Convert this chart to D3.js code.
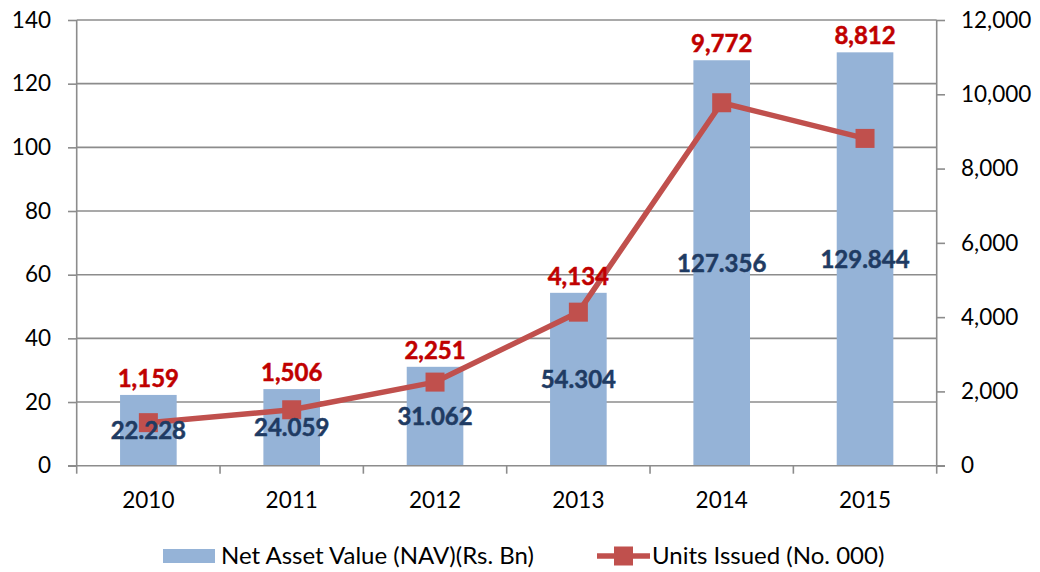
<!DOCTYPE html>
<html>
<head>
<meta charset="utf-8">
<script src="https://cdn.jsdelivr.net/npm/d3@7"></script>
<style>
  html, body { margin: 0; padding: 0; background: #fff; }
  svg { display: block; font-family: Lato, "Open Sans", sans-serif; }
</style>
</head>
<body>
<svg id="chart" width="1040" height="572"></svg>
<script>
const years = ["2010", "2011", "2012", "2013", "2014", "2015"];
const navValues = [22.228, 24.059, 31.062, 54.304, 127.356, 129.844];
const unitsValues = [1159, 1506, 2251, 4134, 9772, 8812];
const leftTicks = [0, 20, 40, 60, 80, 100, 120, 140];
const rightTicks = [0, 2000, 4000, 6000, 8000, 10000, 12000];
const navLabels = ["22.228", "24.059", "31.062", "54.304", "127.356", "129.844"];
const unitsLabels = ["1,159", "1,506", "2,251", "4,134", "9,772", "8,812"];
const legendNames = ["Net Asset Value (NAV)(Rs. Bn)", "Units Issued (No. 000)"];

const W = 1040, H = 572;
const m = { left: 76.7, right: 1040 - 936.7, top: 20, bottom: 572 - 465.7 };
const svg = d3.select("#chart");
const gridColor = "#8c8c8c";
const barColor = "#95B3D7";
const lineColor = "#C0504D";
const axisFont = 22.5;

const x = d3.scaleBand().domain(years).range([m.left, W - m.right]).paddingInner(0.605).paddingOuter(0.3025);
const band = d3.scaleBand().domain(years).range([m.left, W - m.right]);
const yL = d3.scaleLinear().domain([0, 140]).range([H - m.bottom, m.top]);
const yR = d3.scaleLinear().domain([0, 12000]).range([H - m.bottom, m.top]);

// gridlines
svg.append("g").selectAll("line").data(leftTicks.filter(d => d > 0)).join("line")
  .attr("x1", m.left).attr("x2", W - m.right)
  .attr("y1", d => yL(d)).attr("y2", d => yL(d))
  .attr("stroke", gridColor).attr("stroke-width", 1.6);

// bars
svg.append("g").selectAll("rect").data(years).join("rect")
  .attr("x", d => x(d)).attr("width", x.bandwidth())
  .attr("y", (d, i) => yL(navValues[i]))
  .attr("height", (d, i) => yL(0) - yL(navValues[i]))
  .attr("fill", barColor);

// left axis
const axL = svg.append("g").attr("transform", `translate(${m.left},0)`)
  .call(d3.axisLeft(yL).tickValues(leftTicks).tickSize(8.7).tickPadding(17).tickFormat(d3.format("d")));
axL.select(".domain").attr("stroke", gridColor).attr("stroke-width", 1.6).attr("d", `M0,${yL(0)}V${yL(140)}`);
axL.selectAll(".tick line").attr("stroke", gridColor).attr("stroke-width", 1.6);
axL.selectAll("text").attr("font-size", axisFont).attr("fill", "#000").attr("font-family", "Lato");

// right axis
const axR = svg.append("g").attr("transform", `translate(${W - m.right},0)`)
  .call(d3.axisRight(yR).tickValues(rightTicks).tickSize(8.3).tickPadding(16).tickFormat(d3.format(",")));
axR.select(".domain").attr("stroke", gridColor).attr("stroke-width", 1.6).attr("d", `M0,${yR(0)}V${yR(12000)}`);
axR.selectAll(".tick line").attr("stroke", gridColor).attr("stroke-width", 1.6);
axR.selectAll("text").attr("font-size", axisFont).attr("fill", "#000").attr("font-family", "Lato");

// bottom axis with ticks at category boundaries
const bottomY = yL(0);
const boundaries = years.map(d => band(d)).concat([W - m.right]);
svg.append("line").attr("x1", m.left - 8.7).attr("x2", W - m.right + 8.3)
  .attr("y1", bottomY).attr("y2", bottomY).attr("stroke", gridColor).attr("stroke-width", 1.6);
svg.append("g").selectAll("line").data(boundaries).join("line")
  .attr("x1", d => d).attr("x2", d => d).attr("y1", bottomY).attr("y2", bottomY + 8)
  .attr("stroke", gridColor).attr("stroke-width", 1.6);
svg.append("g").selectAll("text").data(years).join("text")
  .attr("x", d => band(d) + band.bandwidth() / 2).attr("y", 508)
  .attr("text-anchor", "middle").attr("font-size", axisFont).attr("fill", "#000").text(d => d);

// line
const cx = d => band(d) + band.bandwidth() / 2;
svg.append("path").datum(years)
  .attr("d", d3.line().x(d => cx(d)).y((d, i) => yR(unitsValues[i])))
  .attr("fill", "none").attr("stroke", lineColor).attr("stroke-width", 5.5).attr("stroke-linejoin", "round");
const ms = 19;
svg.append("g").selectAll("rect").data(years).join("rect")
  .attr("x", d => cx(d) - ms / 2).attr("y", (d, i) => yR(unitsValues[i]) - ms / 2)
  .attr("width", ms).attr("height", ms).attr("fill", lineColor);

// blue labels (bar center)
svg.append("g").selectAll("text").data(years).join("text")
  .attr("x", d => cx(d)).attr("y", (d, i) => (yL(0) + yL(navValues[i])) / 2)
  .attr("dy", "0.36em").attr("text-anchor", "middle")
  .attr("font-size", 24).attr("font-weight", "bold").attr("fill", "#1F3B63")
  .attr("stroke", "#1F3B63").attr("stroke-width", 0.5)
  .text((d, i) => navLabels[i]);

// red labels (above bar)
svg.append("g").selectAll("text").data(years).join("text")
  .attr("x", d => cx(d)).attr("y", (d, i) => yL(navValues[i]) - 8)
  .attr("text-anchor", "middle")
  .attr("font-size", 24).attr("font-weight", "bold").attr("fill", "#C00000")
  .attr("stroke", "#C00000").attr("stroke-width", 0.5)
  .text((d, i) => unitsLabels[i]);

// legend
const lg = svg.append("g");
lg.append("rect").attr("x", 163).attr("y", 549).attr("width", 52).attr("height", 14).attr("fill", barColor);
lg.append("text").attr("x", 221).attr("y", 564).attr("font-size", 24).attr("fill", "#000").text(legendNames[0]);
lg.append("line").attr("x1", 597).attr("x2", 650).attr("y1", 556).attr("y2", 556)
  .attr("stroke", lineColor).attr("stroke-width", 5.5);
lg.append("rect").attr("x", 623.5 - ms / 2).attr("y", 556 - ms / 2).attr("width", ms).attr("height", ms).attr("fill", lineColor);
lg.append("text").attr("x", 652).attr("y", 564).attr("font-size", 24).attr("fill", "#000").text(legendNames[1]);
</script>
</body>
</html>
